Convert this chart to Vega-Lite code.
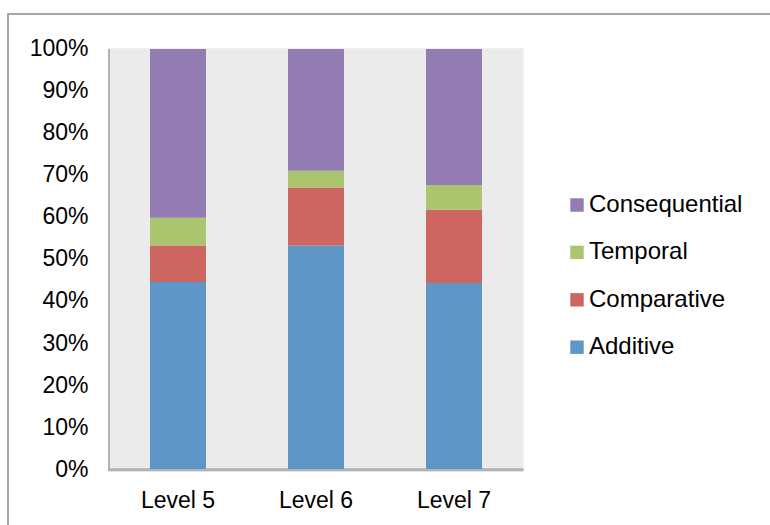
{
  "$schema": "https://vega.github.io/schema/vega-lite/v6.json",
  "width": 770,
  "height": 520,
  "autosize": {"type": "none"},
  "padding": {"left": 8, "top": 14, "right": 0, "bottom": 0},
  "background": "white",
  "config": {
    "view": {"stroke": "#A6A6A6", "strokeWidth": 2, "fill": "white"},
    "font": "Liberation Sans"
  },
  "data": {
    "values": [
      {"level": "Level 5", "type": "Additive", "order": 1, "value": 44.5},
      {"level": "Level 5", "type": "Comparative", "order": 2, "value": 8.7},
      {"level": "Level 5", "type": "Temporal", "order": 3, "value": 6.6},
      {"level": "Level 5", "type": "Consequential", "order": 4, "value": 40.2},
      {"level": "Level 6", "type": "Additive", "order": 1, "value": 53.2},
      {"level": "Level 6", "type": "Comparative", "order": 2, "value": 13.8},
      {"level": "Level 6", "type": "Temporal", "order": 3, "value": 4.0},
      {"level": "Level 6", "type": "Consequential", "order": 4, "value": 29.0},
      {"level": "Level 7", "type": "Additive", "order": 1, "value": 44.3},
      {"level": "Level 7", "type": "Comparative", "order": 2, "value": 17.4},
      {"level": "Level 7", "type": "Temporal", "order": 3, "value": 5.9},
      {"level": "Level 7", "type": "Consequential", "order": 4, "value": 32.4}
    ]
  },
  "resolve": {"scale": {"x": "independent"}},
  "layer": [
    {
      "layer": [
        {
          "mark": {"type": "bar", "color": "#EBEBEB", "stroke": "#EBEBEB", "strokeWidth": 0.6},
          "encoding": {
            "x": {"field": "level", "type": "nominal", "scale": {"range": [101, 515], "paddingInner": 0, "paddingOuter": 0, "round": false}, "axis": null},
            "y": {"datum": 1, "type": "quantitative", "scale": {"domain": [-0.15476, 1.08333], "nice": false, "zero": false}},
            "y2": {"datum": 0}
          }
        },
        {
          "mark": {"type": "bar", "color": "#B3B3B3", "stroke": "#B3B3B3", "strokeWidth": 0.6},
          "encoding": {
            "x": {"field": "level", "type": "nominal"},
            "y": {"datum": 0, "type": "quantitative"},
            "y2": {"datum": -0.004}
          }
        },
        {
          "transform": [{"filter": "datum.level == 'Level 5'"}],
          "mark": {"type": "rule", "color": "#B3B3B3", "strokeWidth": 2},
          "encoding": {
            "x": {"field": "level", "type": "nominal", "bandPosition": 0},
            "y": {"datum": 1, "type": "quantitative"},
            "y2": {"datum": -0.004}
          }
        }
      ]
    },
    {
      "mark": {"type": "bar"},
      "encoding": {
        "x": {
          "field": "level", "type": "nominal",
          "scale": {"range": [101, 515], "paddingInner": 0.5942, "paddingOuter": 0.2971, "round": false},
          "axis": {"title": null, "orient": "bottom", "offset": -65, "domain": false, "ticks": false, "tickSize": 0, "labelPadding": 20, "labelFontSize": 23, "labelColor": "black", "labelAngle": 0, "labelFont": "Liberation Sans"}
        },
        "y": {
          "field": "value", "type": "quantitative", "stack": "normalize",
          "scale": {"domain": [-0.15476, 1.08333], "nice": false, "zero": false},
          "axis": {"title": null, "values": [0, 0.1, 0.2, 0.3, 0.4, 0.5, 0.6, 0.7, 0.8, 0.9, 1], "format": ".0%", "offset": -101, "domain": false, "ticks": false, "tickSize": 0, "grid": false, "labelPadding": 21, "labelFontSize": 23, "labelColor": "black", "labelFont": "Liberation Sans"}
        },
        "order": {"field": "order", "type": "quantitative", "sort": "ascending"},
        "color": {
          "field": "type", "type": "nominal",
          "scale": {"domain": ["Additive", "Comparative", "Temporal", "Consequential"], "range": ["#5E96C7", "#CD6560", "#ABC46E", "#937CB2"]},
          "legend": {"title": null, "orient": "none", "legendX": 557, "legendY": 179, "values": ["Consequential", "Temporal", "Comparative", "Additive"], "symbolType": "square", "symbolSize": 180, "symbolStrokeWidth": 0, "labelFontSize": 24, "labelColor": "black", "labelOffset": 0, "rowPadding": 23.4, "padding": 0, "labelFont": "Liberation Sans"}
        }
      }
    }
  ]
}
